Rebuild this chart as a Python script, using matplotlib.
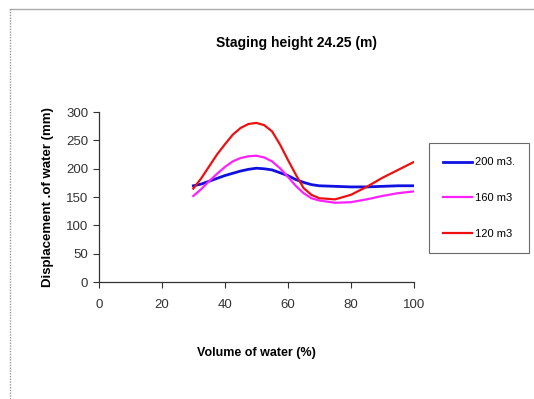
import matplotlib
matplotlib.use("Agg")
import matplotlib.pyplot as plt
from matplotlib.lines import Line2D

plt.rcParams['font.family'] = ['Liberation Sans', 'DejaVu Sans']

volume = [30, 32.5, 35, 37.5, 40, 42.5, 45, 47.5, 50, 52.5, 55, 57.5, 60, 62.5, 65, 67.5, 70,
          75, 80, 85, 90, 95, 100]
disp_200 = [170, 173, 178, 183, 188, 192, 196, 199, 201, 200, 198, 193, 188, 181, 176, 172, 170,
            169, 168, 168, 169, 170, 170]
disp_160 = [152, 164, 178, 191, 203, 213, 219, 222, 223, 220, 213, 201, 186, 170, 157, 148, 144,
            140, 141, 146, 152, 157, 160]
disp_120 = [165, 183, 204, 225, 243, 260, 272, 279, 281, 277, 266, 243, 216, 190, 166, 154, 148,
            146, 154, 168, 184, 198, 212]

fig = plt.figure(figsize=(5.34, 3.99), dpi=100)
ax = fig.add_axes([0.185, 0.293, 0.59, 0.426])

ax.plot(volume, disp_200, color="#1010e0", lw=2, label="200 m3.")
ax.plot(volume, disp_160, color="#ff20ff", lw=1.6, label="160 m3")
ax.plot(volume, disp_120, color="#ee1010", lw=1.6, label="120 m3")

ax.set_xlim(0, 100)
ax.set_ylim(0, 300)
ax.set_xticks(range(0, 101, 20))
ax.set_yticks(range(0, 301, 50))
ax.spines['top'].set_visible(False)
ax.spines['right'].set_visible(False)
for s in ['left', 'bottom']:
    ax.spines[s].set_color("#333333")
    ax.spines[s].set_linewidth(0.9)
ax.tick_params(direction='out', length=4, colors="#333333", labelsize=9.5)
ax.tick_params(axis='x', pad=8)

ax.set_xlabel("Volume of water (%)", fontsize=9, fontweight='bold', labelpad=26)
ax.set_ylabel("Displacement .of water (mm)", fontsize=9.5, fontweight='bold', labelpad=9)
fig.text(0.555, 0.892, "Staging height 24.25 (m)", ha='center', va='center',
         fontsize=10, fontweight='bold')

leg = ax.legend(loc='upper left', bbox_to_anchor=(1.048, 0.818), borderaxespad=0,
                frameon=True, fancybox=False, fontsize=8, handlelength=2.6,
                labelspacing=2.3, borderpad=1.3, handletextpad=0.2, edgecolor="#444444")
leg.get_frame().set_linewidth(0.8)

# outer chart frame: top line and dotted left edge
fig.add_artist(Line2D([0.018, 1.0], [0.978, 0.978], color="#aaaaaa", lw=1))
fig.add_artist(Line2D([0.018, 0.018], [0.0, 0.978], color="#999999", lw=1, ls=(0, (1, 1))))

fig.savefig("out.png", dpi=100)
